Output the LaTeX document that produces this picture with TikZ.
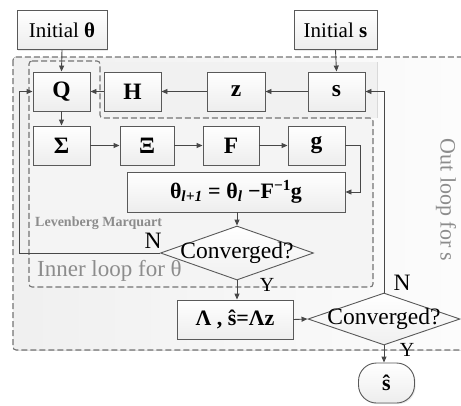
\documentclass[tikz,border=0pt]{standalone}
\usepackage{fontspec}
\setmainfont{Liberation Serif}
\usetikzlibrary{arrows.meta,shapes.geometric,shadows}
\begin{document}
\begin{tikzpicture}[x=1pt,y=-1pt,
  box/.style={draw=black!65, line width=0.9pt, top color=white, bottom color=gray!14,
    drop shadow={opacity=0.18, shadow xshift=1.2pt, shadow yshift=-1.2pt},
    minimum height=39pt, inner sep=0pt, font=\fontsize{23.5}{26}\selectfont\bfseries},
  initbox/.style={box, font=\fontsize{21}{24}\selectfont},
  arr/.style={draw=black!72, line width=0.9pt, -{Triangle[length=6pt,width=5pt]}},
  dbox/.style={draw=black!55, line width=1.1pt, dash pattern=on 6pt off 3pt, rounded corners=3pt},
  dia/.style={diamond, draw=black!65, line width=0.9pt, top color=white, bottom color=gray!12,
    inner sep=0pt, minimum width=153pt, minimum height=54pt},
  lab/.style={font=\fontsize{23.5}{26}\selectfont, inner sep=0pt},
  ylab/.style={font=\fontsize{20}{22}\selectfont, inner sep=0pt},
  note/.style={text=black!45, inner sep=0pt}
]
\useasboundingbox (0,0) rectangle (461,405);
% backgrounds
\begin{scope}
  \clip (0,0) rectangle (461,405);
  \fill[left color=gray!12, right color=gray!2, rounded corners=3pt] (13,57) rectangle (475,350);
  \fill[gray!11] (100,62) rectangle (377,118);
  \draw[gray!30, line width=0.6pt] (377,62) -- (377,118);
  \fill[gray!9, rounded corners=3pt] (29,61) -- (100,61) -- (100,118) -- (373,118) -- (373,287) -- (29,287) -- cycle;
  \draw[dbox] (13,57) rectangle (475,350);
  \draw[dbox] (29,61) -- (100,61) -- (100,118) -- (373,118) -- (373,287) -- (29,287) -- cycle;
\end{scope}
% texts of regions
\node[note, anchor=west, font=\fontsize{14}{16}\selectfont\bfseries] (lm) at (35,223) {Levenberg Marquart};
\node[note, anchor=west, font=\fontsize{23}{25}\selectfont] (il) at (37,271) {Inner loop for θ};
\node[note, rotate=-90, font=\fontsize{22}{24}\selectfont] (ol) at (446,200) {Out loop for s};
% nodes
\node[initbox, minimum width=90pt] (initt) at (62,30) {Initial \textbf{θ}};
\node[initbox, minimum width=83pt] (inits) at (335.5,30) {Initial \textbf{s}};
\node[box, minimum width=57pt] (Q) at (61.5,91.5) {Q};
\node[box, minimum width=57pt] (H) at (132.5,91.5) {H};
\node[box, minimum width=58pt] (z) at (236,91.5) {z};
\node[box, minimum width=57pt] (s) at (336.5,91.5) {s};
\node[box, minimum width=57pt] (Sig) at (61.5,145.5) {Σ};
\node[box, minimum width=54pt] (Xi) at (147,145.5) {Ξ};
\node[box, minimum width=56pt] (F) at (231,145.5) {F};
\node[box, minimum width=57pt] (g) at (316.5,145.5) {g};
\node[box, minimum width=218pt, minimum height=40pt, font=\fontsize{22}{24}\selectfont\bfseries] (upd) at (236,192)
  {θ\textsubscript{\itshape l+1} = θ\textsubscript{\itshape l} −F\textsuperscript{−1}g};
\node[dia] (c1) at (237,253) {};
\node[lab] (c1t) at (237,253) {Converged?};
\node[box, minimum width=116pt, font=\fontsize{22}{24}\selectfont\bfseries] (lam) at (235,319.5) {Λ , ŝ=Λz};
\node[dia, minimum width=152pt, minimum height=52pt] (c2) at (384,319) {};
\node[lab] (c2t) at (384,319) {Converged?};
\node[box, rounded corners=18pt, minimum width=56pt, minimum height=40pt, font=\fontsize{22}{24}\selectfont\bfseries] (sh) at (386.5,383) {ŝ};
% labels
\node[lab] (n1) at (153,241) {N};
\node[ylab] (y1) at (267,285) {Y};
\node[lab] (n2) at (402,283) {N};
\node[ylab] (y2) at (407,350) {Y};
% connectors
\coordinate (lp) at (19,253);
\draw[arr] (initt.south) -- (Q.north);
\draw[arr] (inits.south) -- (s.north);
\draw[arr] (s.west) -- (z.east);
\draw[arr] (z.west) -- (H.east);
\draw[arr] (H.west) -- (Q.east);
\draw[arr] (Q.south) -- (Sig.north);
\draw[arr] (Sig.east) -- (Xi.west);
\draw[arr] (Xi.east) -- (F.west);
\draw[arr] (F.east) -- (g.west);
\draw[arr] (g.east) -- ++(15,0) |- (upd.east);
\draw[arr] (upd.south -| c1.north) -- (c1.north);
\draw[arr] (c1.south) -- (c1.south |- lam.north);
\draw[arr] (lam.east) -- (c2.west);
\draw[arr] (c2.south) -- (c2.south |- sh.north);
\draw[arr] (c2.north) |- (s.east);
\draw[arr] (c1.west) -- (lp) |- (Q.west);
\end{tikzpicture}
\end{document}
